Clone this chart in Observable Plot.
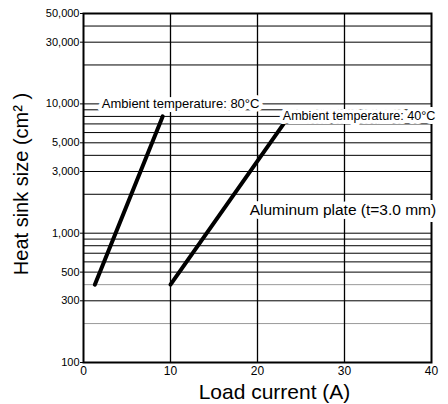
<!DOCTYPE html>
<html>
<head>
<meta charset="utf-8">
<script src="https://cdn.jsdelivr.net/npm/d3@7"></script>
<script src="https://cdn.jsdelivr.net/npm/@observablehq/plot@0.6"></script>
<style>
  html, body { margin: 0; padding: 0; background: #fff; }
</style>
</head>
<body>
<div id="chart"></div>
<script>
// ---- data ----
const xTicks = [0, 10, 20, 30, 40];
const yTicks = [100, 300, 500, 1000, 3000, 5000, 10000, 30000, 50000];
const gridBlackY = [300, 500, 600, 700, 800, 900, 1000, 2000, 3000, 4000, 5000, 6000, 7000, 8000, 9000, 10000, 20000, 30000, 40000];
const gridGrayY = [200, 400];
const gridX = [10, 20, 30];

const series80Current = [1.3, 9.1];
const series80Size = [400, 8000];
const series40Current = [10, 23];
const series40Size = [400, 7000];

const labelTexts = ["Ambient temperature: 80°C", "Ambient temperature: 40°C", "Aluminum plate (t=3.0 mm)"];
const labelX = [2.1, 22.9, 19.1];
const labelY = [10000, 8000, 1500];
const labelSize = [13, 12.6, 15.5];

const xTitle = "Load current (A)";
const yTitle = "Heat sink size (cm² )";

// ---- build ----
const lines = [
  ...series80Current.map((c, i) => ({series: "80", current: c, size: series80Size[i]})),
  ...series40Current.map((c, i) => ({series: "40", current: c, size: series40Size[i]}))
];
const labels = labelTexts.map((t, i) => ({text: t, x: labelX[i], y: labelY[i], fs: labelSize[i]}));
const fmt = d3.format(",");

const font = "'Liberation Sans', Arial, Helvetica, sans-serif";

const chart = Plot.plot({
  width: 448,
  height: 404,
  marginLeft: 83,
  marginRight: 17,
  marginTop: 13,
  marginBottom: 42,
  style: {fontFamily: font, background: "#fff", color: "#000"},
  x: {domain: [0, 40]},
  y: {type: "log", domain: [100, 50000]},
  marks: [
    Plot.ruleY(gridGrayY, {stroke: "#999", strokeWidth: 1}),
    Plot.ruleY(gridBlackY, {stroke: "#000", strokeWidth: 1}),
    Plot.ruleX(gridX, {stroke: "#000", strokeWidth: 1.3}),
    Plot.frame({stroke: "#000", strokeWidth: 2}),
    Plot.line(lines, {x: "current", y: "size", z: "series", stroke: "#000", strokeWidth: 4}),
    ...labels.map(l => Plot.text([l], {
      x: "x", y: "y", text: "text", textAnchor: "start", fontSize: l.fs,
      fill: "#000", stroke: "#fff", strokeWidth: 8, paintOrder: "stroke"
    })),
    Plot.axisY({ticks: yTicks, tickSize: 3, tickFormat: () => "", label: null}),
    Plot.text(yTicks, {y: d => d, frameAnchor: "left", text: d => fmt(d), textAnchor: "end", dx: -4, fontSize: 11, fill: "#000"}),
    Plot.axisX({ticks: xTicks, tickSize: 0, tickPadding: 4, fontSize: 12, label: null}),
    Plot.text([yTitle], {frameAnchor: "left", dx: -62, dy: -4, rotate: -90, textAnchor: "middle", lineAnchor: "middle", fontSize: 20, fill: "#000"}),
    Plot.text([xTitle], {frameAnchor: "bottom", dx: 17, dy: 30, textAnchor: "middle", lineAnchor: "middle", fontSize: 21, fill: "#000"})
  ]
});
document.getElementById("chart").appendChild(chart);
</script>
</body>
</html>
